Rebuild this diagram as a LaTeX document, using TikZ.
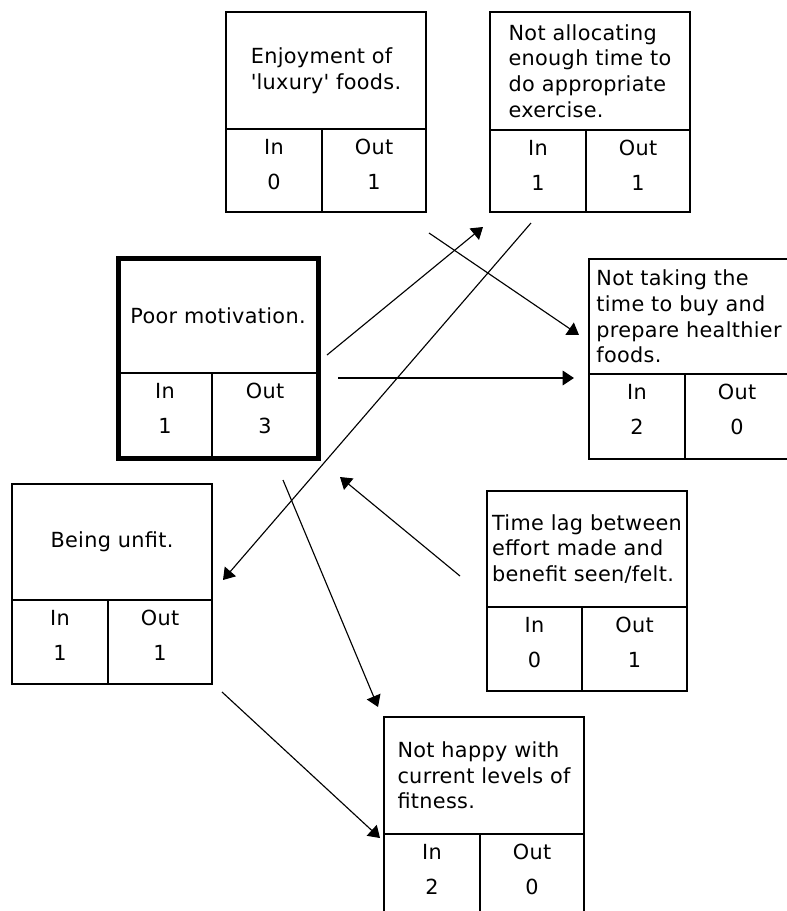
\documentclass[tikz,border=0pt]{standalone}
\usepackage{fontspec}
\setmainfont{DejaVu Sans}[LetterSpace=1.5]
\usetikzlibrary{arrows.meta}

\tikzset{
  x=0.75pt, y=-0.75pt,
  cbox/.style={draw, line width=1.1pt, minimum width=150pt, minimum height=150pt,
    anchor=north west, inner sep=0pt, outer sep=0pt},
  boldframe/.style={line width=3.75pt},
  divider/.style={line width=1.1pt},
  boxtext/.style={align=left, inner sep=0pt, font=\fontsize{15.6}{19.2}\selectfont},
  tally/.style={inner sep=0pt, font=\fontsize{15.6}{16}\selectfont},
  arrowline/.style={line width=0.85pt, -{Triangle[length=8.5pt,width=11pt]}},
}

% #1 extra frame style, #2 name, #3 left, #4 top, #5 divider y, #6 split x,
% #7 caption, #8 in-degree, #9 out-degree
\newcommand{\causebox}[9][]{%
  \node[cbox,#1] (#2) at (#3,#4) {};
  \draw[divider] (#3,#5) -- ({#3+200},#5);
  \draw[divider] (#6,#5) -- (#6,{#4+200});
  \node[boxtext] (#2-text) at ({#3+100},{(#4+#5)/2}) {#7};
  \node[tally] (#2-in) at ({(#3+#6)/2},{#5+17.5}) {In};
  \node[tally] (#2-out) at ({(#6+#3+200)/2},{#5+17.5}) {Out};
  \node[tally] (#2-inval) at ({(#3+#6)/2},{#5+52.5}) {#8};
  \node[tally] (#2-outval) at ({(#6+#3+200)/2},{#5+52.5}) {#9};
}

\begin{document}
\begin{tikzpicture}
\path[fill=white, use as bounding box] (0,0) rectangle (786,911);

\causebox{luxury}{226}{12}{129}{322}{Enjoyment of\\\textquotesingle luxury\textquotesingle{} foods.}{0}{1}
\causebox{exercise}{490}{12}{130}{586}{Not allocating\\enough time to\\do appropriate\\exercise.}{1}{1}
\causebox[boldframe]{motivation}{118}{258}{373}{212}{Poor motivation.}{1}{3}
\causebox{healthy}{589}{259}{374}{685}{Not taking the\\time to buy and\\prepare healthier\\foods.}{2}{0}
\causebox{unfit}{12}{484}{600}{108}{Being unfit.}{1}{1}
\causebox{timelag}{487}{491}{607}{582}{Time lag between\\effort made and\\benefit seen/felt.}{0}{1}
\causebox{unhappy}{384}{717}{834}{480}{Not happy with\\current levels of\\fitness.}{2}{0}

% connector end points
\coordinate (mot-ex-a) at (327,355);  \coordinate (mot-ex-b) at (483,227);
\coordinate (lux-he-a) at (429,233);  \coordinate (lux-he-b) at (579,335);
\coordinate (mot-he-a) at (338,378);  \coordinate (mot-he-b) at (574,378);
\coordinate (ex-unf-a) at (531,223);  \coordinate (ex-unf-b) at (223,580);
\coordinate (tl-mot-a) at (460,576);  \coordinate (tl-mot-b) at (340,477);
\coordinate (mot-un-a) at (283,480);  \coordinate (mot-un-b) at (378,707);
\coordinate (unf-un-a) at (222,692);  \coordinate (unf-un-b) at (380,838);

\draw[arrowline] (mot-ex-a) -- (mot-ex-b);
\draw[arrowline] (lux-he-a) -- (lux-he-b);
\draw[arrowline] (mot-he-a) -- (mot-he-b);
\draw[arrowline] (ex-unf-a) -- (ex-unf-b);
\draw[arrowline] (tl-mot-a) -- (tl-mot-b);
\draw[arrowline] (mot-un-a) -- (mot-un-b);
\draw[arrowline] (unf-un-a) -- (unf-un-b);
\end{tikzpicture}
\end{document}
